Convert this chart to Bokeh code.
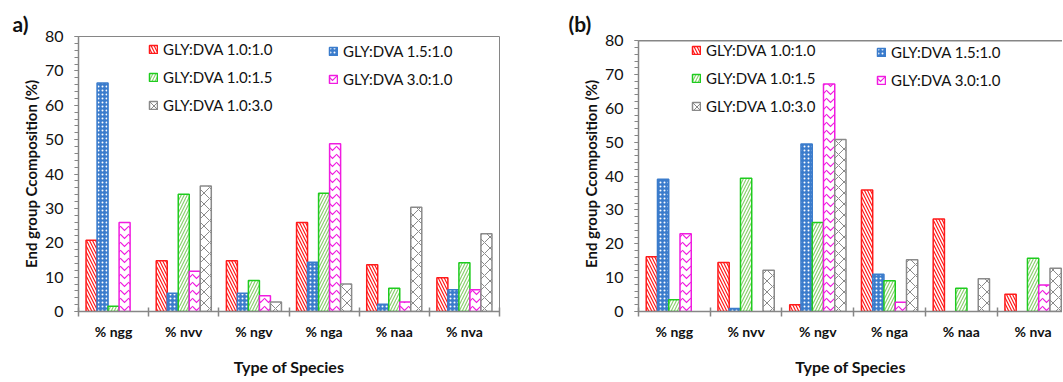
from bokeh.plotting import figure
from bokeh.layouts import row
from bokeh.models import (FixedTicker, SingleIntervalTicker, Legend, LegendItem,
                          Range1d, ColumnDataSource, Span)
from bokeh.embed import file_html
from bokeh.resources import INLINE

categories = ["% ngg", "% nvv", "% ngv", "% nga", "% naa", "% nva"]
series_names = ["GLY:DVA 1.0:1.0", "GLY:DVA 1.5:1.0", "GLY:DVA 1.0:1.5",
                "GLY:DVA 3.0:1.0", "GLY:DVA 1.0:3.0"]

# Panel (a)
a_1_0_1_0 = [20.7, 14.8, 14.8, 25.9, 13.6, 9.8]
a_1_5_1_0 = [66.5, 5.3, 5.3, 14.3, 2.1, 6.3]
a_1_0_1_5 = [1.5, 34.1, 9.0, 34.4, 6.8, 14.2]
a_3_0_1_0 = [25.9, 11.7, 4.6, 48.8, 2.8, 6.3]
a_1_0_3_0 = [0.0, 36.5, 2.8, 8.0, 30.3, 22.6]

# Panel (b)
b_1_0_1_0 = [16.2, 14.5, 2.0, 35.9, 27.3, 5.1]
b_1_5_1_0 = [39.1, 0.9, 49.5, 11.0, 0.0, 0.0]
b_1_0_1_5 = [3.5, 39.4, 26.3, 9.1, 6.9, 15.7]
b_3_0_1_0 = [23.0, 0.0, 67.2, 2.7, 0.0, 7.8]
b_1_0_3_0 = [0.0, 12.2, 50.8, 15.3, 9.7, 12.8]

y_ticks = [0, 10, 20, 30, 40, 50, 60, 70, 80]

FONT = "Lato"
AXIS_GRAY = "#868686"
TEXT = "#111111"

styles = [
    dict(line_color="#ff1a1a", fill_color="white", hatch_pattern="left_diagonal_line",
         hatch_color="#ff1a1a", hatch_scale=6, hatch_weight=1.2),
    dict(line_color="#3b7ccc", fill_color="#3b7ccc", hatch_pattern="dot",
         hatch_color="white", hatch_scale=4, hatch_weight=1.2),
    dict(line_color="#1ecc1e", fill_color="white", hatch_pattern="right_diagonal_line",
         hatch_color="#8ccf70", hatch_scale=6, hatch_weight=1.2),
    dict(line_color="#f01ce0", fill_color="white", hatch_pattern="horizontal_wave",
         hatch_color="#f01ce0", hatch_scale=8, hatch_weight=1.2),
    dict(line_color="#8a8a8a", fill_color="white", hatch_pattern="diagonal_cross",
         hatch_color="#8a8a8a", hatch_scale=11, hatch_weight=1.0),
]


def make_panel(series, width, height, min_left, min_right, min_top, min_bottom,
               x_end, y_end, panel_text, title_offset, leg1_pos, leg2_pos,
               full_outline):
    p = figure(width=width, height=height, x_range=Range1d(0, x_end),
               y_range=Range1d(0, y_end), output_backend="svg",
               toolbar_location=None,
               min_border_left=min_left, min_border_right=min_right,
               min_border_top=min_top, min_border_bottom=min_bottom)
    p.xgrid.visible = False
    p.ygrid.visible = False
    p.background_fill_color = "white"
    p.border_fill_color = "white"
    if full_outline:
        p.outline_line_color = AXIS_GRAY
    else:
        p.outline_line_color = None
        p.add_layout(Span(location=y_ticks[-1], dimension="width",
                          line_color=AXIS_GRAY, line_width=1.5))

    # panel tag, e.g. "a)"
    p.title.text = panel_text
    p.title.align = "left"
    p.title.offset = title_offset
    p.title.standoff = 2
    p.title.text_font = FONT
    p.title.text_font_style = "bold"
    p.title.text_font_size = "21px"
    p.title.text_color = TEXT

    bw = 0.157
    renderers = []
    for k, vals in enumerate(series):
        xs = [i + 0.5 + (k - 2) * bw for i, v in enumerate(vals) if v > 0]
        tops = [v for v in vals if v > 0]
        src = ColumnDataSource(dict(x=xs, top=tops))
        r = p.vbar(x="x", top="top", bottom=0, width=bw, source=src,
                   line_width=1.5, **styles[k])
        renderers.append(r)

    # x axis: labels at category centers, ticks at category boundaries
    centers = [i + 0.5 for i in range(len(categories))]
    bounds = [float(i) for i in range(len(categories) + 1)]
    p.xaxis.ticker = FixedTicker(ticks=centers, minor_ticks=bounds)
    p.xaxis.major_label_overrides = {c: lab for c, lab in zip(centers, categories)}
    p.xaxis.major_tick_line_color = None
    p.xaxis.major_tick_out = 0
    p.xaxis.major_tick_in = 0
    p.xaxis.minor_tick_line_color = AXIS_GRAY
    p.xaxis.minor_tick_out = 5
    p.xaxis.minor_tick_in = 4
    p.xaxis.minor_tick_line_width = 1.5
    p.xaxis.axis_line_color = AXIS_GRAY
    p.xaxis.axis_line_width = 1.5
    p.xaxis.major_label_text_font = FONT
    p.xaxis.major_label_text_font_style = "bold"
    p.xaxis.major_label_text_font_size = "14px"
    p.xaxis.major_label_text_color = TEXT
    p.xaxis.major_label_standoff = 6
    p.xaxis.axis_label = "Type of Species"
    p.xaxis.axis_label_text_font = FONT
    p.xaxis.axis_label_text_font_style = "bold"
    p.xaxis.axis_label_text_font_size = "16px"
    p.xaxis.axis_label_text_color = TEXT
    p.xaxis.axis_label_standoff = 14

    # y axis
    p.yaxis.ticker = SingleIntervalTicker(interval=10, num_minor_ticks=5)
    p.yaxis.bounds = (y_ticks[0], y_ticks[-1])
    p.yaxis.axis_line_color = AXIS_GRAY
    p.yaxis.axis_line_width = 1.5
    p.yaxis.major_tick_line_color = AXIS_GRAY
    p.yaxis.minor_tick_line_color = AXIS_GRAY
    p.yaxis.major_tick_out = 4
    p.yaxis.major_tick_in = 0
    p.yaxis.minor_tick_out = 4
    p.yaxis.minor_tick_in = 0
    p.yaxis.major_label_text_font = FONT
    p.yaxis.major_label_text_font_size = "16px"
    p.yaxis.major_label_text_color = TEXT
    p.yaxis.major_label_standoff = 11
    p.yaxis.axis_label = "End group Ccomposition (%)"
    p.yaxis.axis_label_text_font = FONT
    p.yaxis.axis_label_text_font_style = "bold"
    p.yaxis.axis_label_text_font_size = "15px"
    p.yaxis.axis_label_text_color = TEXT
    p.yaxis.axis_label_standoff = 2

    items = [LegendItem(label=series_names[k], renderers=[renderers[k]])
             for k in range(5)]
    common = dict(padding=0, margin=0, spacing=10, label_height=16, glyph_height=10,
                  glyph_width=10, label_standoff=5, border_line_color=None,
                  background_fill_alpha=0, label_text_font=FONT,
                  label_text_font_size="15px", label_text_color=TEXT)
    leg1 = Legend(items=[items[0], items[2], items[4]], location=leg1_pos, **common)
    leg2 = Legend(items=[items[1], items[3]], location=leg2_pos, **common)
    p.add_layout(leg1)
    p.add_layout(leg2)
    return p


pa = make_panel([a_1_0_1_0, a_1_5_1_0, a_1_0_1_5, a_3_0_1_0, a_1_0_3_0],
                width=530, height=381, min_left=78, min_right=31, min_top=36,
                min_bottom=70, x_end=6, y_end=80, panel_text="a)",
                title_offset=-66, leg1_pos=(70, 197), leg2_pos=(250, 223),
                full_outline=True)
pb = make_panel([b_1_0_1_0, b_1_5_1_0, b_1_0_1_5, b_3_0_1_0, b_1_0_3_0],
                width=532, height=381, min_left=108, min_right=0, min_top=36,
                min_bottom=70, x_end=5.91, y_end=81.26, panel_text="(b)",
                title_offset=-70, leg1_pos=(53, 196), leg2_pos=(238, 222),
                full_outline=False)

layout = row(pa, pb)
open("out.html", "w").write(file_html(layout, INLINE))
